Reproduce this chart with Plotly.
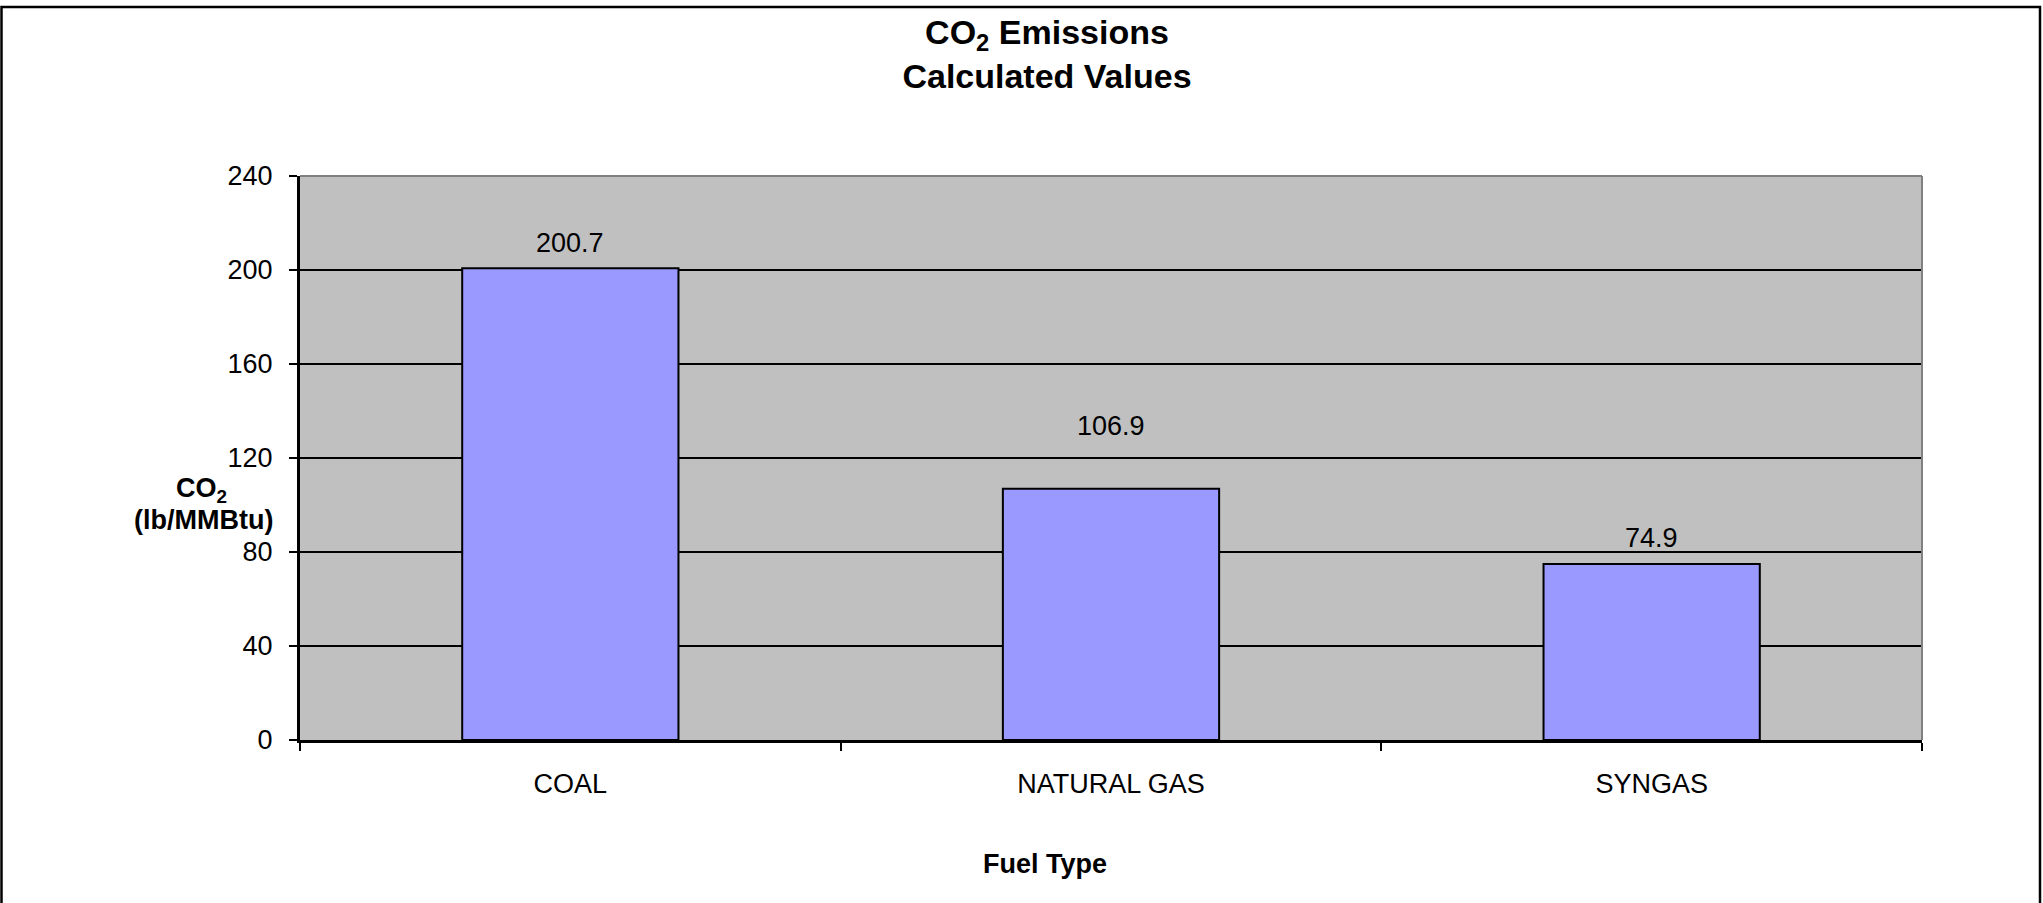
import plotly.graph_objects as go

# CO2 emission factors by fuel (lb/MMBtu)
fuel_types = ["COAL", "NATURAL GAS", "SYNGAS"]
co2_values = [200.7, 106.9, 74.9]
value_labels = ["200.7", "106.9", "74.9"]
y_ticks = [0, 40, 80, 120, 160, 200, 240]

# vertical offset (px) of each value label above its bar top
label_offsets = [25, 63, 26]

W, H = 2043, 903
L, R, T, B = 300, 2043 - 1922, 176, 903 - 740
PW, PH = W - L - R, H - T - B

FONT = "Arial, 'Liberation Sans', Helvetica, sans-serif"


def px_x(px):
    return (px - L) / PW


def px_y(py):
    return (H - B - py) / PH


fig = go.Figure()
fig.add_trace(
    go.Bar(
        x=fuel_types,
        y=co2_values,
        marker=dict(color="#9999FF", line=dict(color="#000000", width=2)),
        hoverinfo="x+y",
    )
)

annotations = []
for cat, val, txt, off in zip(fuel_types, co2_values, value_labels, label_offsets):
    annotations.append(
        dict(
            x=cat, y=val, text=txt, showarrow=False,
            xanchor="center", yanchor="middle", yshift=off,
            font=dict(family=FONT, size=27, color="#000000"),
        )
    )

# y-axis title, two stacked lines
annotations.append(
    dict(
        xref="paper", yref="paper", x=px_x(201), y=px_y(490),
        text="<b>CO<sub>2</sub></b>", showarrow=False,
        xanchor="center", yanchor="middle",
        font=dict(family=FONT, size=27, color="#000000"),
    )
)
annotations.append(
    dict(
        xref="paper", yref="paper", x=px_x(203), y=px_y(520),
        text="<b>(lb/MMBtu)</b>", showarrow=False,
        xanchor="center", yanchor="middle",
        font=dict(family=FONT, size=27, color="#000000"),
    )
)
# x-axis title
annotations.append(
    dict(
        xref="paper", yref="paper", x=px_x(1045), y=px_y(864),
        text="<b>Fuel Type</b>", showarrow=False,
        xanchor="center", yanchor="middle",
        font=dict(family=FONT, size=27, color="#000000"),
    )
)

shapes = [
    # outer chart frame
    dict(
        type="rect", xref="paper", yref="paper",
        x0=px_x(1.5), x1=px_x(2040), y0=px_y(915), y1=px_y(7),
        line=dict(color="#000000", width=2.5), fillcolor="rgba(0,0,0,0)",
        layer="above",
    ),
    # grey top and right edges of the plotting area
    dict(
        type="line", xref="paper", yref="paper", x0=0, x1=1, y0=1, y1=1,
        line=dict(color="#808080", width=2), layer="above",
    ),
    dict(
        type="line", xref="paper", yref="paper", x0=1, x1=1, y0=0, y1=1,
        line=dict(color="#808080", width=2), layer="above",
    ),
]

fig.update_layout(
    width=W, height=H,
    margin=dict(l=L, r=R, t=T, b=B, pad=0),
    paper_bgcolor="#FFFFFF",
    plot_bgcolor="#C0C0C0",
    bargap=0.6,
    showlegend=False,
    title=dict(
        text="<b>CO<sub>2</sub> Emissions</b><br><b>Calculated Values</b>",
        xref="container", yref="container",
        x=1047 / W, xanchor="center",
        y=1 - 44 / H, yanchor="top",
        font=dict(family=FONT, size=34, color="#000000"),
    ),
    font=dict(family=FONT, size=27, color="#000000"),
    annotations=annotations,
    shapes=shapes,
)

fig.update_xaxes(
    type="category",
    showline=True, linecolor="#000000", linewidth=3,
    ticks="outside", tickson="boundaries", ticklen=8, tickwidth=2,
    tickcolor="#000000",
    tickfont=dict(family=FONT, size=27, color="#000000"),
    ticklabelstandoff=18,
    showgrid=False, zeroline=False,
)

fig.update_yaxes(
    range=[0, 240], tickvals=y_ticks,
    showline=True, linecolor="#000000", linewidth=3,
    ticks="outside", ticklen=8, tickwidth=2, tickcolor="#000000",
    tickfont=dict(family=FONT, size=27, color="#000000"),
    ticklabelstandoff=11,
    showgrid=True, gridcolor="#000000", gridwidth=2,
    zeroline=False,
)

fig.write_html("out.html")
